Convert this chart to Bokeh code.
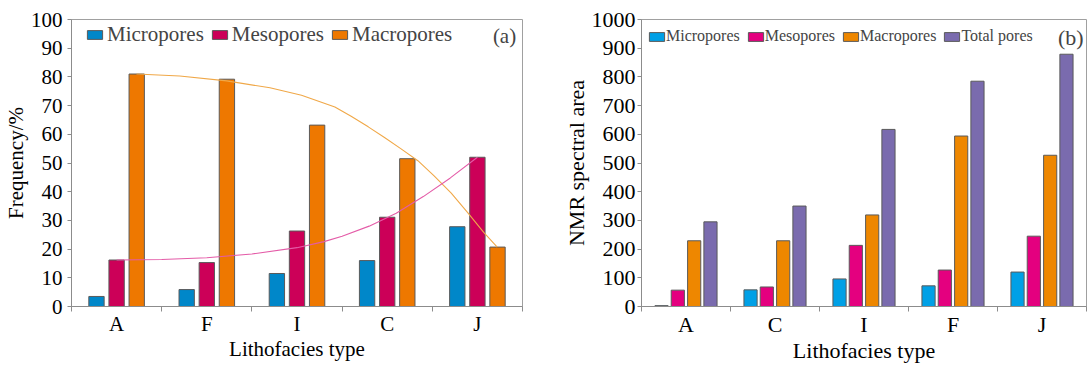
from bokeh.plotting import figure
from bokeh.models import FixedTicker, Range1d, Legend, LegendItem, Label
from bokeh.layouts import row
from bokeh.embed import file_html
from bokeh.resources import INLINE

# ---------------- data: panel (a) ----------------
cats_a = ["A", "F", "I", "C", "J"]
micro_a = [3.5, 5.9, 11.5, 16.0, 27.8]
meso_a = [16.2, 15.3, 26.3, 31.1, 52.0]
macro_a = [81.0, 79.2, 63.2, 51.5, 20.7]
# trend curves (x in category units, 0..5)
macro_trend_x = [0.72, 1.2, 1.72, 2.2, 2.55, 2.92, 3.1, 3.29, 3.47, 3.65, 3.84, 4.02, 4.21, 4.39, 4.57, 4.72]
macro_trend_y = [81.0, 80.3, 78.6, 76.2, 73.6, 69.5, 66.3, 62.6, 58.9, 55.0, 50.8, 45.5, 39.5, 32.8, 25.8, 20.7]
meso_trend_x = [0.5, 1.0, 1.5, 2.0, 2.5, 2.8, 3.0, 3.3, 3.6, 3.9, 4.2, 4.5]
meso_trend_y = [16.2, 16.4, 17.0, 18.3, 20.5, 22.6, 24.5, 28.0, 32.5, 38.3, 44.8, 52.0]
yticks_a = [0, 10, 20, 30, 40, 50, 60, 70, 80, 90, 100]

# ---------------- data: panel (b) ----------------
cats_b = ["A", "C", "I", "F", "J"]
micro_b = [3, 58, 96, 72, 120]
meso_b = [57, 68, 213, 127, 245]
macro_b = [229, 229, 319, 594, 527]
total_b = [295, 350, 617, 785, 879]
yticks_b = [0, 100, 200, 300, 400, 500, 600, 700, 800, 900, 1000]

FONT = "Liberation Serif"
AXIS_GRAY = "#8c8c8c"
EDGE = "#5a5a5a"


def style_axes(p, cats, yticks, tick_size, label_size, ytick_standoff, ylab_standoff):
    centers = [i + 0.5 for i in range(len(cats))]
    xa = p.xaxis[0]
    xa.ticker = FixedTicker(ticks=centers, minor_ticks=list(range(len(cats) + 1)))
    xa.major_label_overrides = {c: name for c, name in zip(centers, cats)}
    xa.major_tick_line_color = None
    xa.major_tick_in = 0
    xa.major_tick_out = 0
    xa.minor_tick_line_color = AXIS_GRAY
    xa.minor_tick_in = 0
    xa.minor_tick_out = 5
    xa.major_label_standoff = 0
    xa.axis_label_standoff = -2
    ya = p.yaxis[0]
    ya.ticker = FixedTicker(ticks=yticks)
    ya.minor_tick_line_color = None
    ya.major_tick_line_color = AXIS_GRAY
    ya.major_tick_in = 0
    ya.major_tick_out = 4
    ya.major_label_standoff = ytick_standoff
    ya.axis_label_standoff = ylab_standoff
    for ax in (xa, ya):
        ax.axis_line_color = AXIS_GRAY
        ax.major_label_text_font = FONT
        ax.major_label_text_font_size = tick_size
        ax.major_label_text_color = "black"
        ax.axis_label_text_font = FONT
        ax.axis_label_text_font_size = label_size
        ax.axis_label_text_font_style = "normal"
        ax.axis_label_text_color = "black"
    p.xgrid.visible = False
    p.ygrid.visible = False
    p.outline_line_color = "#a0a0a0"
    p.outline_line_width = 1


# ---------------- panel (a) ----------------
pa = figure(width=560, height=365, min_border_left=69, min_border_right=38,
            min_border_top=19, min_border_bottom=58, x_range=Range1d(0, 5),
            y_range=Range1d(0, 100), output_backend="svg", toolbar_location=None,
            x_axis_label="Lithofacies type", y_axis_label="Frequency/%")
style_axes(pa, cats_a, yticks_a, "21px", "21px", 5, 0)

xc_a = [i + 0.5 for i in range(len(cats_a))]
off_a = 0.223
w_a = 0.17
r1 = pa.vbar(x=[x - off_a for x in xc_a], top=micro_a, width=w_a, bottom=0,
             fill_color="#0087C9", line_color=EDGE, line_width=1)
r2 = pa.vbar(x=xc_a, top=meso_a, width=w_a, bottom=0,
             fill_color="#CC0058", line_color=EDGE, line_width=1)
r3 = pa.vbar(x=[x + off_a for x in xc_a], top=macro_a, width=w_a, bottom=0,
             fill_color="#EE7800", line_color=EDGE, line_width=1)
pa.line(macro_trend_x, macro_trend_y, line_color="#F0A848", line_width=1.1)
pa.line(meso_trend_x, meso_trend_y, line_color="#E45CA8", line_width=1.1)

leg_a = Legend(items=[LegendItem(label="Micropores", renderers=[r1]),
                      LegendItem(label="Mesopores", renderers=[r2]),
                      LegendItem(label="Macropores", renderers=[r3])],
               orientation="horizontal", location=(14, 259),
               glyph_width=19, glyph_height=11, label_standoff=3, spacing=6,
               padding=0, margin=0, border_line_color=None, background_fill_alpha=0,
               label_text_font=FONT, label_text_font_size="21px", label_height=22)
pa.add_layout(leg_a)
pa.add_layout(Label(x=4.93, y=94.3, text="(a)", text_align="right", text_baseline="middle",
                    text_font=FONT, text_font_size="21px"))

# ---------------- panel (b) ----------------
pb = figure(width=527, height=365, min_border_left=80, min_border_right=1,
            min_border_top=19, min_border_bottom=58, x_range=Range1d(0, 5),
            y_range=Range1d(0, 1000), output_backend="svg", toolbar_location=None,
            x_axis_label="Lithofacies type", y_axis_label="NMR spectral area")
style_axes(pb, cats_b, yticks_b, "22px", "22px", 2, 0)

xc_b = [i + 0.5 for i in range(len(cats_b))]
o1, o2 = 0.092, 0.275
w_b = 0.148
s1 = pb.vbar(x=[x - o2 for x in xc_b], top=micro_b, width=w_b, bottom=0,
             fill_color="#00A0E6", line_color=EDGE, line_width=1)
s2 = pb.vbar(x=[x - o1 for x in xc_b], top=meso_b, width=w_b, bottom=0,
             fill_color="#E4007F", line_color=EDGE, line_width=1)
s3 = pb.vbar(x=[x + o1 for x in xc_b], top=macro_b, width=w_b, bottom=0,
             fill_color="#EE8700", line_color=EDGE, line_width=1)
s4 = pb.vbar(x=[x + o2 for x in xc_b], top=total_b, width=w_b, bottom=0,
             fill_color="#7A6BAE", line_color=EDGE, line_width=1)

leg_b = Legend(items=[LegendItem(label="Micropores", renderers=[s1]),
                      LegendItem(label="Mesopores", renderers=[s2]),
                      LegendItem(label="Macropores", renderers=[s3]),
                      LegendItem(label="Total pores", renderers=[s4])],
               orientation="horizontal", location=(6, 260),
               glyph_width=19, glyph_height=11, label_standoff=0, spacing=6,
               padding=0, margin=0, border_line_color=None, background_fill_alpha=0,
               label_text_font=FONT, label_text_font_size="16px", label_height=20)
pb.add_layout(leg_b)
pb.add_layout(Label(x=4.68, y=937, text="(b)", text_align="left", text_baseline="middle",
                    text_font=FONT, text_font_size="22px"))

layout = row(pa, pb, spacing=0)
open("out.html", "w").write(file_html(layout, INLINE))
